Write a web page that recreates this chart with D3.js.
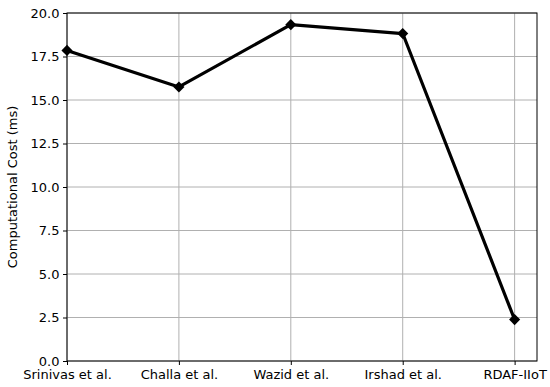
<!DOCTYPE html>
<html>
<head>
<meta charset="utf-8">
<script src="https://cdn.jsdelivr.net/npm/d3@7"></script>
<style>
  body { margin: 0; background: #fff; }
  text { font-family: "DejaVu Sans", sans-serif; }
</style>
</head>
<body>
<div id="chart"></div>
<script>
// data
var methods = ["Srinivas et al.", "Challa et al.", "Wazid et al.", "Irshad et al.", "RDAF-IIoT"];
var costs = [17.85, 15.75, 19.33, 18.82, 2.38];
var yTicks = [0, 2.5, 5, 7.5, 10, 12.5, 15, 17.5, 20];

var width = 550, height = 387;
var margin = {top: 13, right: 13, bottom: 26, left: 67};
var fontSize = 13;

var svg = d3.select("#chart").append("svg")
    .attr("width", width)
    .attr("height", height);

// x is an index scale, left edge sits on the first point, small gap on the right
var x = d3.scaleLinear()
    .domain([0, 4.2])
    .range([margin.left, width - margin.right]);
var y = d3.scaleLinear()
    .domain([0, 20])
    .range([height - margin.bottom, margin.top]);

var xAxis = d3.axisBottom(x)
    .tickValues(d3.range(methods.length))
    .tickFormat(function (i) { return methods[i]; })
    .tickSizeOuter(0).tickSizeInner(4).tickPadding(4.5);
var yAxis = d3.axisLeft(y)
    .tickValues(yTicks)
    .tickFormat(d3.format(".1f"))
    .tickSizeOuter(0).tickSizeInner(4).tickPadding(3.5);

// grid
var grid = svg.append("g").attr("class", "grid");
grid.selectAll(".gx").data(d3.range(methods.length)).enter().append("line")
    .attr("x1", function (d) { return x(d); }).attr("x2", function (d) { return x(d); })
    .attr("y1", y(0)).attr("y2", y(20))
    .attr("stroke", "#b0b0b0").attr("stroke-width", 1);
grid.selectAll(".gy").data(yTicks).enter().append("line")
    .attr("x1", x(0)).attr("x2", x(4.2))
    .attr("y1", function (d) { return y(d); }).attr("y2", function (d) { return y(d); })
    .attr("stroke", "#b0b0b0").attr("stroke-width", 1);

svg.append("g")
    .attr("transform", "translate(0," + y(0) + ")")
    .call(xAxis)
    .call(function (g) { g.select(".domain").remove(); })
    .selectAll("text").attr("font-size", fontSize).attr("fill", "#000")
    .attr("font-family", "DejaVu Sans");
svg.append("g")
    .attr("transform", "translate(" + x(0) + ",0)")
    .call(yAxis)
    .call(function (g) { g.select(".domain").remove(); })
    .selectAll("text").attr("font-size", fontSize).attr("fill", "#000")
    .attr("font-family", "DejaVu Sans");

// frame
svg.append("rect")
    .attr("x", x(0)).attr("y", y(20))
    .attr("width", x(4.2) - x(0)).attr("height", y(0) - y(20))
    .attr("fill", "none").attr("stroke", "#000").attr("stroke-width", 1);

var line = d3.line()
    .x(function (d, i) { return x(i); })
    .y(function (d) { return y(d); });

svg.append("path")
    .datum(costs)
    .attr("d", line)
    .attr("fill", "none")
    .attr("stroke", "#000")
    .attr("stroke-width", 3.2)
    .attr("stroke-linejoin", "round");

svg.selectAll(".pt").data(costs).enter().append("path")
    .attr("class", "pt")
    .attr("transform", function (d, i) { return "translate(" + x(i) + "," + y(d) + ") rotate(45)"; })
    .attr("d", d3.symbol().type(d3.symbolSquare).size(62))
    .attr("fill", "#000");

svg.append("text")
    .attr("transform", "translate(17," + ((y(0) + y(20)) / 2) + ") rotate(-90)")
    .attr("text-anchor", "middle")
    .attr("font-size", fontSize)
    .text("Computational Cost (ms)");
</script>
</body>
</html>
